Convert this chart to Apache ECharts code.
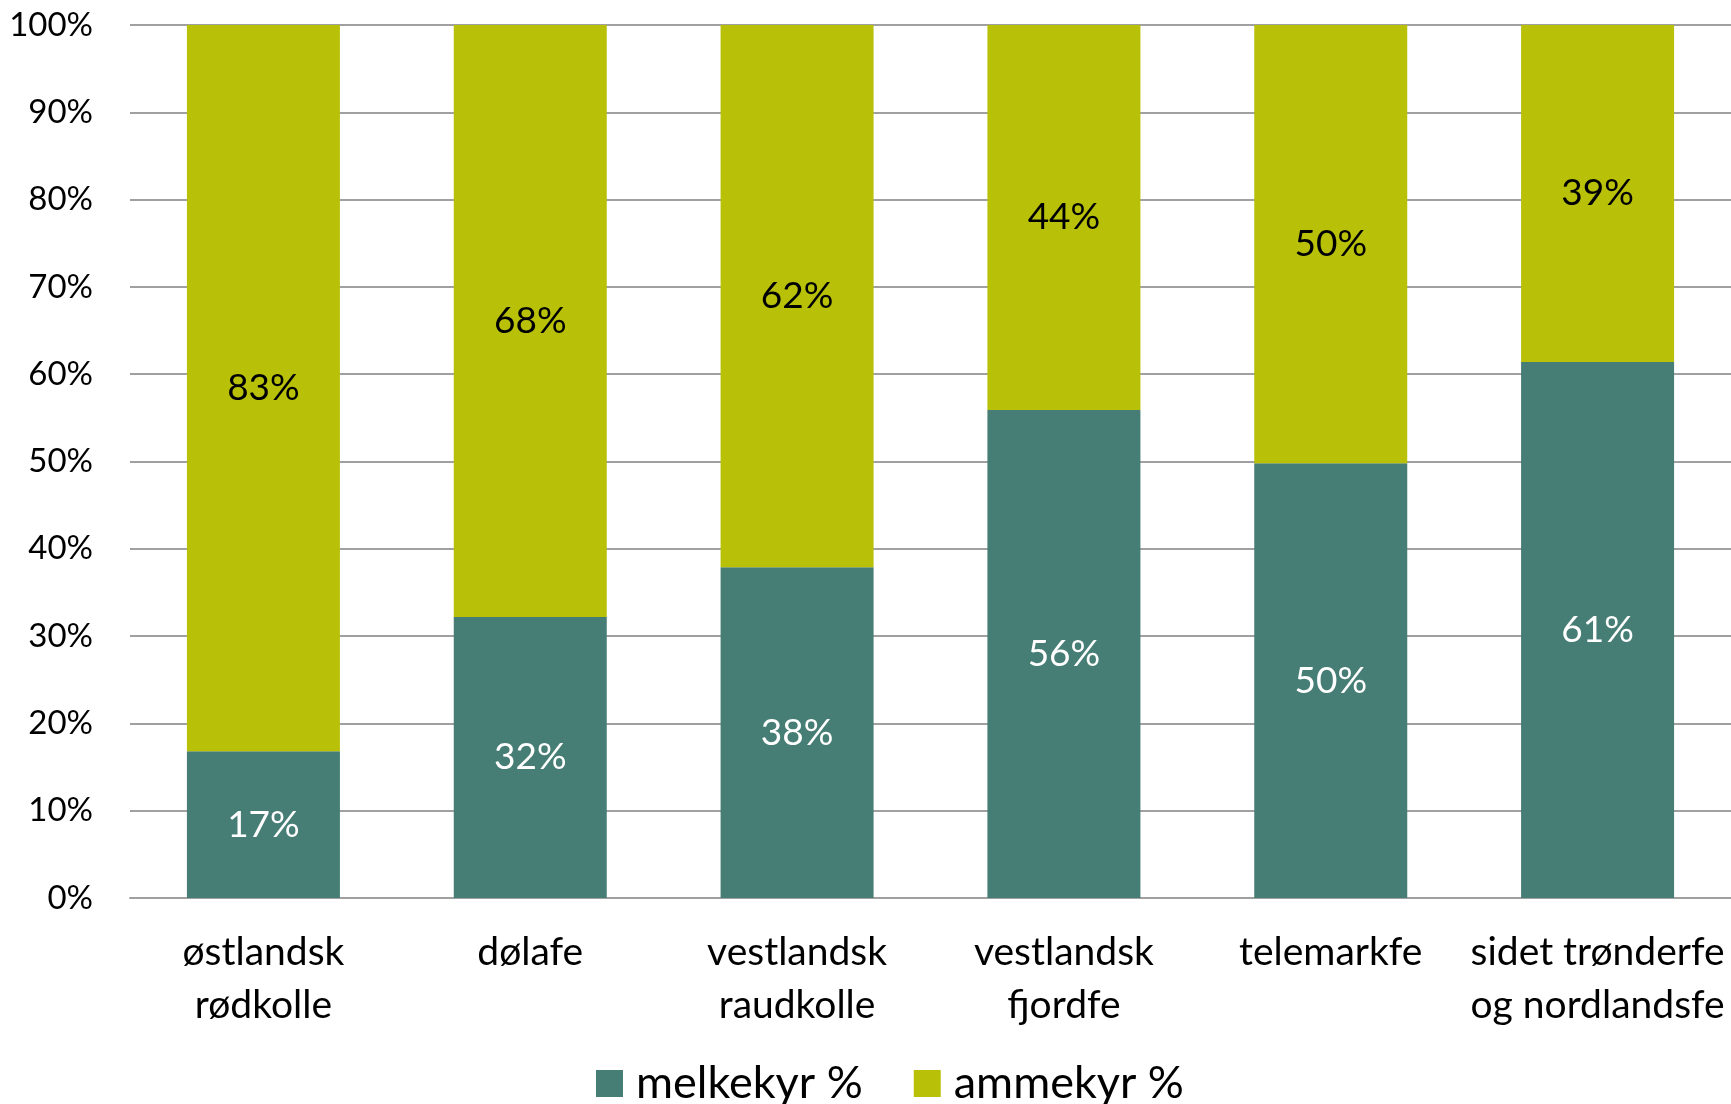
<!DOCTYPE html>
<html>
<head>
<meta charset="utf-8">
<script src="https://cdn.jsdelivr.net/npm/echarts@6/dist/echarts.min.js"></script>
<style>
html,body{margin:0;padding:0;background:#fff;}
#chart{width:1731px;height:1104px;}
</style>
</head>
<body>
<div id="chart"></div>
<script>
const categories = ['østlandsk\nrødkolle', 'dølafe', 'vestlandsk\nraudkolle', 'vestlandsk\nfjordfe', 'telemarkfe', 'sidet trønderfe\nog nordlandsfe'];
const melkekyr = [16.8, 32.2, 37.9, 55.9, 49.8, 61.4];
const ammekyr = [83.2, 67.8, 62.1, 44.1, 50.2, 38.6];
const yTicks = ['0%', '10%', '20%', '30%', '40%', '50%', '60%', '70%', '80%', '90%', '100%'];

const FONT = 'Lato';
const chart = echarts.init(document.getElementById('chart'), null, {renderer: 'canvas'});
chart.setOption({
  animation: false,
  backgroundColor: '#ffffff',
  textStyle: {fontFamily: FONT},
  grid: {left: 130, right: 0, top: 25, bottom: 206, containLabel: false},
  legend: {
    data: ['melkekyr %', 'ammekyr %'],
    left: 591, top: 1056,
    itemWidth: 27, itemHeight: 27, itemGap: 51,
    icon: 'rect',
    textStyle: {fontFamily: FONT, fontSize: 45, color: '#000', padding: [0, 0, 0, 8]}
  },
  xAxis: {
    type: 'category',
    data: categories,
    axisTick: {show: false},
    axisLine: {show: true, lineStyle: {color: '#a0a0a0', width: 2}},
    axisLabel: {fontFamily: FONT, fontSize: 39, color: '#000', margin: 28, lineHeight: 53, interval: 0}
  },
  yAxis: {
    type: 'value',
    min: 0, max: 100, interval: 10,
    axisLine: {show: false},
    axisTick: {show: false},
    splitLine: {lineStyle: {color: '#a0a0a0', width: 2}},
    axisLabel: {
      fontFamily: FONT, fontSize: 33, color: '#000', margin: 37,
      formatter: function (v) { return yTicks[Math.round(v / 10)]; }
    }
  },
  series: [
    {
      name: 'melkekyr %', type: 'bar', stack: 's', barWidth: 153,
      data: melkekyr,
      itemStyle: {color: '#467d74'},
      label: {show: true, position: 'inside', color: '#fff', fontFamily: FONT, fontSize: 37,
        formatter: p => Math.round(p.value) + '%'}
    },
    {
      name: 'ammekyr %', type: 'bar', stack: 's', barWidth: 153,
      data: ammekyr,
      itemStyle: {color: '#b8c108'},
      label: {show: true, position: 'inside', color: '#000', fontFamily: FONT, fontSize: 37,
        formatter: p => Math.round(p.value) + '%'}
    }
  ]
});
</script>
</body>
</html>
